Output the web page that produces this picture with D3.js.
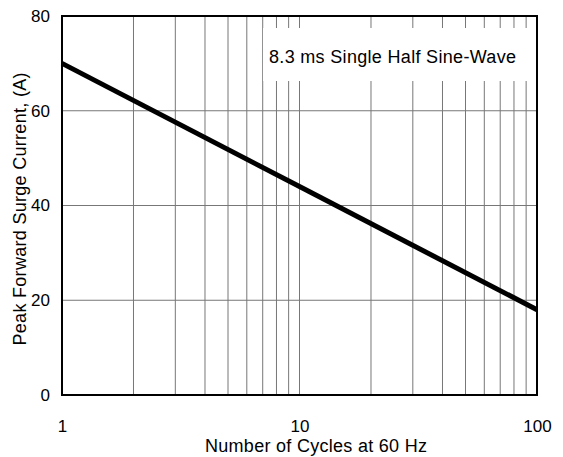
<!DOCTYPE html>
<html>
<head>
<meta charset="utf-8">
<script src="https://cdn.jsdelivr.net/npm/d3@7"></script>
<style>
  body { margin: 0; background: #fff; }
  text { font-family: "Liberation Sans", Arial, sans-serif; }
</style>
</head>
<body>
<script>
// surge current vs number of cycles
var cycles = [1, 10, 100];
var surge = [70, 44, 18];
var xTickLabels = [1, 10, 100];
var yTickLabels = [0, 20, 40, 60, 80];
var legendText = "8.3 ms Single Half Sine-Wave";
var xTitle = "Number of Cycles at 60 Hz";
var yTitle = "Peak Forward Surge Current, (A)";

(function() {
    var w = 563, h = 457;
    var pl = 62, pr = 537, pt = 16, pb = 395;

    var svg = d3.select("body").append("svg")
        .attr("width", w)
        .attr("height", h);

    var x = d3.scaleLog().domain([1, 100]).range([pl, pr]);
    var y = d3.scaleLinear().domain([0, 80]).range([pb, pt]);

    // grid
    svg.append("g").selectAll("line")
        .data(x.ticks().filter(function(d) { return d > 1 && d < 100; }))
        .enter().append("line")
        .attr("x1", function(d) { return x(d); })
        .attr("x2", function(d) { return x(d); })
        .attr("y1", pt).attr("y2", pb)
        .attr("stroke", "#777").attr("stroke-width", 1);

    svg.append("g").selectAll("line")
        .data(yTickLabels.filter(function(d) { return d > 0 && d < 80; }))
        .enter().append("line")
        .attr("x1", pl).attr("x2", pr)
        .attr("y1", function(d) { return y(d); })
        .attr("y2", function(d) { return y(d); })
        .attr("stroke", "#777").attr("stroke-width", 1);

    // legend box
    svg.append("rect")
        .attr("x", 263).attr("y", 28)
        .attr("width", pr - 263).attr("height", 53)
        .attr("fill", "#fff");

    svg.append("text")
        .attr("x", 269).attr("y", 63)
        .attr("font-size", 18)
        .attr("textLength", 247)
        .attr("lengthAdjust", "spacing")
        .text(legendText);

    // data line
    var line = d3.line()
        .x(function(d, i) { return x(cycles[i]); })
        .y(function(d) { return y(d); });

    svg.append("path")
        .datum(surge)
        .attr("d", line)
        .attr("fill", "none")
        .attr("stroke", "#000")
        .attr("stroke-width", 5);

    // frame
    svg.append("rect")
        .attr("x", pl).attr("y", pt)
        .attr("width", pr - pl).attr("height", pb - pt)
        .attr("fill", "none")
        .attr("stroke", "#000").attr("stroke-width", 2);

    // axes (labels only)
    var xAxis = svg.append("g")
        .attr("transform", "translate(0," + pb + ")")
        .call(d3.axisBottom(x).tickValues(xTickLabels).tickSize(0).tickPadding(25).tickFormat(d3.format("d")));
    var yAxis = svg.append("g")
        .attr("transform", "translate(" + pl + ",0)")
        .call(d3.axisLeft(y).tickValues(yTickLabels).tickSize(0).tickPadding(12));

    [xAxis, yAxis].forEach(function(g) {
        g.select(".domain").remove();
        g.selectAll("text")
            .attr("font-size", 17)
            .attr("font-family", "Liberation Sans, Arial, sans-serif")
            .attr("fill", "#000");
    });

    svg.append("text")
        .attr("x", 316).attr("y", 452)
        .attr("text-anchor", "middle")
        .attr("font-size", 18)
        .attr("textLength", 222)
        .attr("lengthAdjust", "spacing")
        .text(xTitle);

    svg.append("text")
        .attr("transform", "translate(26,209) rotate(-90)")
        .attr("text-anchor", "middle")
        .attr("font-size", 18)
        .attr("textLength", 273)
        .attr("lengthAdjust", "spacing")
        .text(yTitle);
})();
</script>
</body>
</html>
